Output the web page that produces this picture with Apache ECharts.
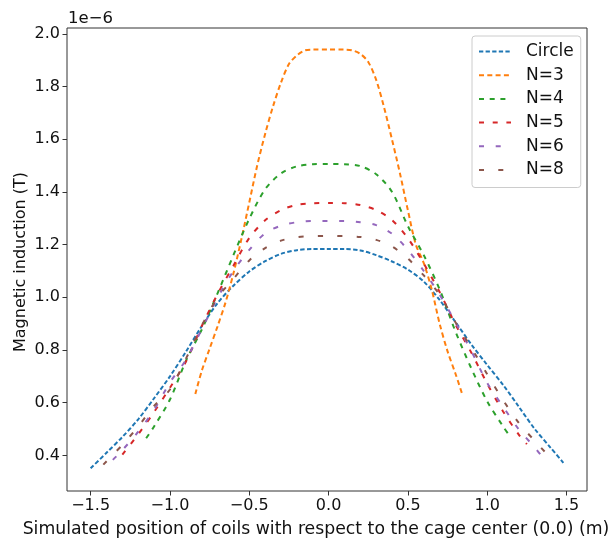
<!DOCTYPE html>
<html>
<head>
<meta charset="utf-8">
<script src="https://cdn.jsdelivr.net/npm/echarts@6/dist/echarts.min.js"></script>
<style>
  html, body { margin: 0; padding: 0; background: #fff; }
  #main { width: 611px; height: 540px; }
</style>
</head>
<body>
<div id="main"></div>
<script>
// values are in units of 1e-6 T
const circleX = [-1.5, -1.4, -1.3, -1.2, -1.1, -1.0, -0.9, -0.8, -0.7, -0.6, -0.5, -0.4, -0.3, -0.2, -0.1, 0, 0.1, 0.2, 0.3, 0.4, 0.5, 0.6, 0.7, 0.8, 0.9, 1.0, 1.1, 1.2, 1.3, 1.4, 1.48];
const circleY = [0.351, 0.41, 0.47, 0.537, 0.617, 0.70, 0.793, 0.89, 0.978, 1.044, 1.098, 1.137, 1.165, 1.179, 1.183, 1.183, 1.183, 1.178, 1.16, 1.136, 1.105, 1.06, 0.99, 0.906, 0.821, 0.743, 0.668, 0.584, 0.5, 0.429, 0.372];

const n3X = [-0.84, -0.8, -0.75, -0.7, -0.65, -0.6, -0.55, -0.5, -0.45, -0.4, -0.35, -0.3, -0.25, -0.2, -0.15, -0.1, 0, 0.1, 0.15, 0.2, 0.25, 0.3, 0.35, 0.4, 0.45, 0.5, 0.55, 0.6, 0.65, 0.7, 0.75, 0.8, 0.84];
const n3Y = [0.633, 0.72, 0.805, 0.89, 0.98, 1.09, 1.22, 1.36, 1.5, 1.62, 1.725, 1.815, 1.885, 1.918, 1.937, 1.94, 1.94, 1.94, 1.937, 1.924, 1.893, 1.825, 1.72, 1.598, 1.47, 1.33, 1.2, 1.13, 1.03, 0.9, 0.795, 0.71, 0.637];

const n4X = [-1.15, -1.1, -1.0, -0.9, -0.8, -0.7, -0.6, -0.5, -0.4, -0.3, -0.2, -0.1, 0, 0.1, 0.2, 0.3, 0.4, 0.5, 0.6, 0.7, 0.8, 0.9, 1.0, 1.1, 1.13];
const n4Y = [0.465, 0.51, 0.612, 0.758, 0.877, 1.015, 1.16, 1.298, 1.41, 1.47, 1.497, 1.505, 1.506, 1.505, 1.498, 1.467, 1.40, 1.27, 1.16, 1.03, 0.87, 0.73, 0.605, 0.51, 0.484];

const n5X = [-1.3, -1.2, -1.1, -1.0, -0.9, -0.8, -0.7, -0.6, -0.5, -0.4, -0.3, -0.2, -0.1, 0, 0.1, 0.2, 0.3, 0.4, 0.5, 0.6, 0.7, 0.8, 0.9, 1.0, 1.1, 1.2, 1.25];
const n5Y = [0.403, 0.48, 0.565, 0.657, 0.755, 0.89, 1.012, 1.12, 1.225, 1.292, 1.331, 1.351, 1.357, 1.358, 1.357, 1.35, 1.331, 1.293, 1.224, 1.128, 1.02, 0.897, 0.79, 0.672, 0.567, 0.478, 0.443];

const n6X = [-1.36, -1.3, -1.2, -1.1, -1.0, -0.9, -0.8, -0.7, -0.6, -0.5, -0.4, -0.3, -0.2, -0.1, 0, 0.1, 0.2, 0.3, 0.4, 0.5, 0.6, 0.7, 0.8, 0.9, 1.0, 1.1, 1.2, 1.3, 1.34];
const n6Y = [0.383, 0.42, 0.49, 0.573, 0.677, 0.762, 0.878, 0.998, 1.1, 1.18, 1.243, 1.272, 1.285, 1.29, 1.29, 1.29, 1.285, 1.274, 1.241, 1.18, 1.1, 1.01, 0.905, 0.796, 0.675, 0.585, 0.498, 0.43, 0.4];

const n8X = [-1.42, -1.3, -1.2, -1.1, -1.0, -0.9, -0.8, -0.7, -0.6, -0.5, -0.4, -0.3, -0.2, -0.1, 0, 0.1, 0.2, 0.3, 0.4, 0.5, 0.6, 0.7, 0.8, 0.9, 1.0, 1.1, 1.2, 1.3, 1.4];
const n8Y = [0.365, 0.44, 0.51, 0.588, 0.65, 0.766, 0.892, 0.999, 1.07, 1.14, 1.187, 1.215, 1.228, 1.232, 1.233, 1.232, 1.229, 1.218, 1.193, 1.147, 1.083, 1.01, 0.905, 0.808, 0.708, 0.61, 0.523, 0.455, 0.39];

const xTicks = [-1.5, -1.0, -0.5, 0.0, 0.5, 1.0, 1.5];
const yTicks = [0.4, 0.6, 0.8, 1.0, 1.2, 1.4, 1.6, 1.8, 2.0];

const names = ['Circle', 'N=3', 'N=4', 'N=5', 'N=6', 'N=8'];
const colors = ['#1f77b4', '#ff7f0e', '#2ca02c', '#d62728', '#9467bd', '#8c564b'];
const dashes = [[4.3, 2.3], [5, 3.3], [5, 5.7], [5, 8.7], [5, 11.7], [5, 14.3]];
const xs = [circleX, n3X, n4X, n5X, n6X, n8X];
const ys = [circleY, n3Y, n4Y, n5Y, n6Y, n8Y];

const font = 'DejaVu Sans';

function pairs(x, y) {
  return x.map((v, i) => [v, y[i]]);
}

const series = names.map((name, i) => ({
  name: name,
  type: 'line',
  data: pairs(xs[i], ys[i]),
  symbol: 'none',
  smooth: 0.3,
  color: colors[i],
  lineStyle: { color: colors[i], width: 2, type: dashes[i] }
}));

const chart = echarts.init(document.getElementById('main'));
chart.setOption({
  animation: false,
  backgroundColor: '#fff',
  grid: {
    left: 67, right: 24, top: 28, bottom: 49,
    show: true, borderColor: '#333', borderWidth: 1,
    outerBoundsMode: 'none'
  },
  xAxis: {
    type: 'value',
    min: -1.649, max: 1.629,
    splitLine: { show: false },
    axisLine: { show: false, onZero: false },
    axisTick: { show: true, length: 4.5, customValues: xTicks, lineStyle: { color: '#333' } },
    axisLabel: {
      customValues: xTicks,
      margin: 7,
      color: '#111',
      fontFamily: font,
      fontSize: 16,
      formatter: v => v.toFixed(1).replace('-', '\u2212')
    },
    name: 'Simulated position of coils with respect to the cage center (0.0) (m)',
    nameLocation: 'middle',
    nameGap: 30,
    nameTextStyle: { color: '#111', fontFamily: font, fontSize: 17.3, padding: [0, 22, 0, 0] }
  },
  yAxis: {
    type: 'value',
    min: 0.265, max: 2.022,
    splitLine: { show: false },
    axisLine: { show: false, onZero: false },
    axisTick: { show: true, length: 4.5, customValues: yTicks, lineStyle: { color: '#333' } },
    axisLabel: {
      customValues: yTicks,
      margin: 7,
      color: '#111',
      fontFamily: font,
      fontSize: 16,
      formatter: v => v.toFixed(1)
    }
  },
  legend: {
    orient: 'vertical',
    left: 472,
    top: 36,
    padding: [7, 7, 9, 6],
    itemWidth: 32,
    itemHeight: 14,
    itemGap: 6.7,
    borderColor: '#ccc',
    borderWidth: 1,
    borderRadius: 3,
    backgroundColor: '#fff',
    itemStyle: { opacity: 0 },
    textStyle: { color: '#111', fontFamily: font, fontSize: 17, padding: [0, 0, 0, 10] },
    data: names
  },
  graphic: [{
    type: 'text',
    left: 68,
    top: 10,
    style: { text: '1e\u22126', fill: '#111', font: '16.5px "DejaVu Sans"' }
  }, {
    type: 'text',
    x: 21,
    y: 262,
    rotation: Math.PI / 2,
    style: {
      text: 'Magnetic induction (T)',
      fill: '#111',
      font: '16px "DejaVu Sans"',
      align: 'center',
      verticalAlign: 'middle'
    }
  }],
  series: series
});
</script>
</body>
</html>
